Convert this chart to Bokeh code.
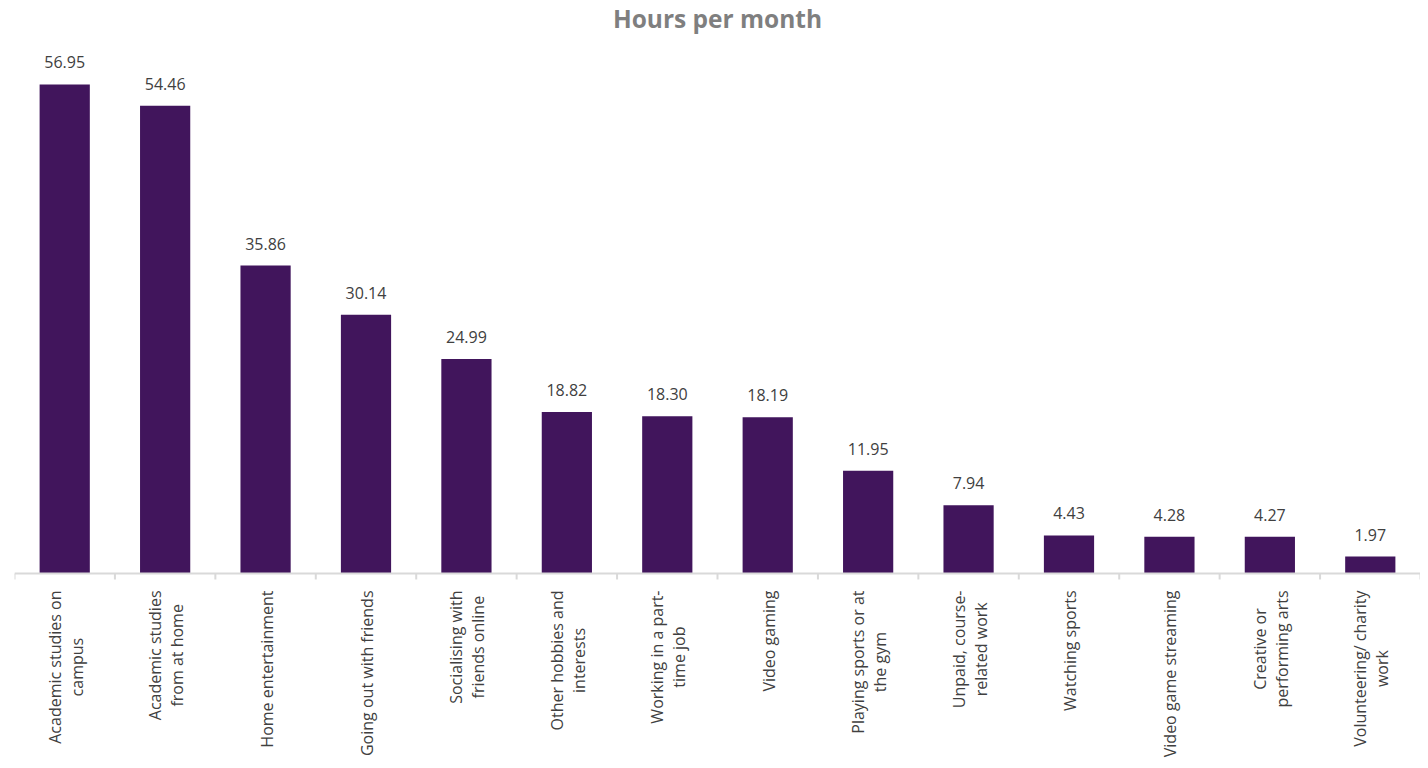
import math
from bokeh.plotting import figure
from bokeh.models import ColumnDataSource, Range1d, Span
from bokeh.core.properties import value
from bokeh.embed import file_html
from bokeh.resources import INLINE

title = "Hours per month"
categories = [
    "Academic studies on\ncampus",
    "Academic studies\nfrom at home",
    "Home entertainment",
    "Going out with friends",
    "Socialising with\nfriends online",
    "Other hobbies and\ninterests",
    "Working in a part-\ntime job",
    "Video gaming",
    "Playing sports or at\nthe gym",
    "Unpaid, course-\nrelated work",
    "Watching sports",
    "Video game streaming",
    "Creative or\nperforming arts",
    "Volunteering/ charity\nwork",
]
hours = [56.95, 54.46, 35.86, 30.14, 24.99, 18.82, 18.30, 18.19, 11.95, 7.94, 4.43, 4.28, 4.27, 1.97]
value_labels = ["%.2f" % v for v in hours]

n = len(categories)
centers = [i + 0.5 for i in range(n)]
bounds = list(range(n + 1))

Y_TOP = 66.73
src = ColumnDataSource(dict(x=centers, top=hours, lab=value_labels, cat=categories,
                            zero=[0] * n))
tick_src = ColumnDataSource(dict(x=bounds, y=[0] * len(bounds)))

p = figure(width=1420, height=760, output_backend="svg", toolbar_location=None,
           x_range=Range1d(0, n), y_range=Range1d(-21.78, Y_TOP),
           min_border_left=14, min_border_right=0, min_border_bottom=0, min_border_top=0)

# chart title, drawn at the top of the plotting area
p.text(x=[n / 2], y=[Y_TOP], text=[title], text_align="center", text_baseline="middle",
       y_offset=18, text_font=value("Open Sans"), text_font_size="24.5px",
       text_font_style="bold", text_color="#7F7F7F")

p.vbar(x="x", top="top", width=0.5, bottom=0, source=src, fill_color="#41155C", line_color=None)
p.text(x="x", y="top", text="lab", source=src, text_align="center", text_baseline="middle",
       y_offset=-22, text_font=value("Open Sans"), text_font_size="16px", text_color="#404040")

# category axis: baseline, boundary ticks, rotated centred labels
p.add_layout(Span(location=0, dimension="width", line_color="#D9D9D9", line_width=2))
p.ray(x="x", y="y", source=tick_src, length=6, length_units="screen", angle=-math.pi / 2,
      line_color="#D9D9D9", line_width=2)
p.text(x="x", y="zero", text="cat", source=src, angle=math.pi / 2, anchor="center_right",
       text_align="center", y_offset=17, x_offset=1, text_font=value("Open Sans"),
       text_font_size="16px", text_color="#404040", text_line_height=1.0)

p.outline_line_color = None
p.xgrid.visible = False
p.ygrid.visible = False
p.xaxis.visible = False
p.yaxis.visible = False

open("out.html", "w").write(file_html(p, INLINE))
